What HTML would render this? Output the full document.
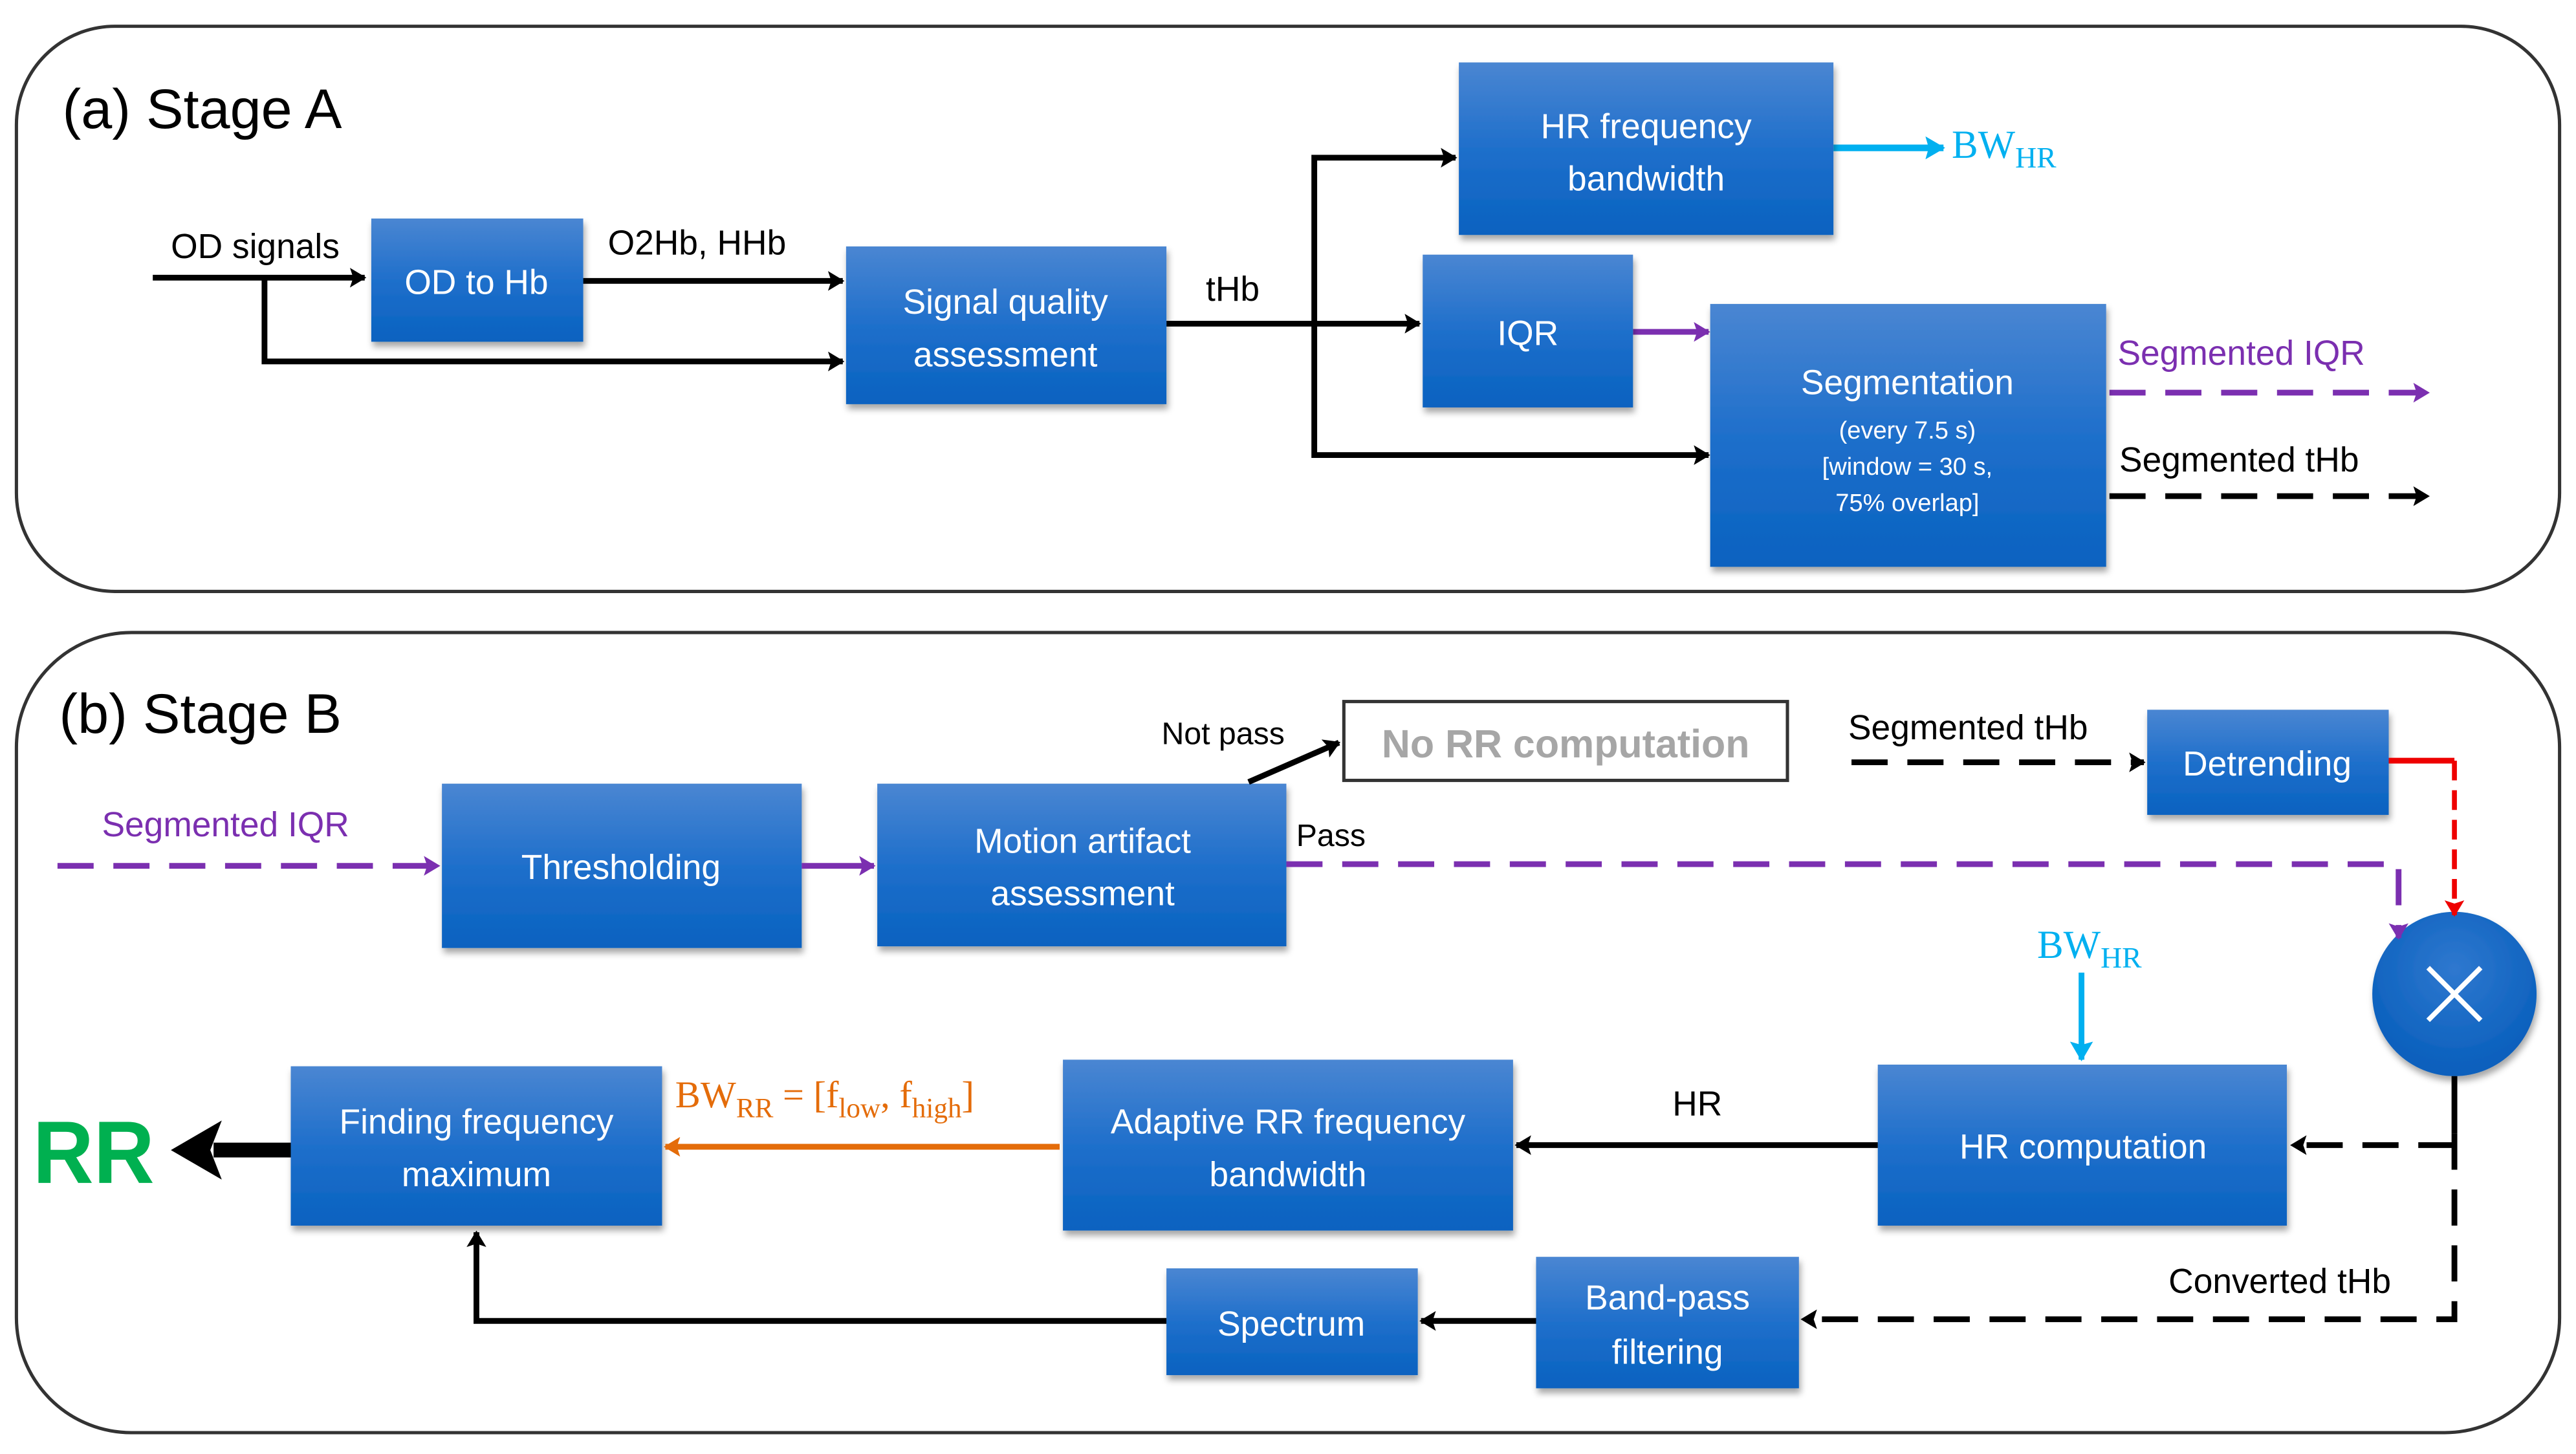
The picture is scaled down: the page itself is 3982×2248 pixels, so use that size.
<!DOCTYPE html>
<html><head><meta charset="utf-8"><style>
html,body{margin:0;padding:0;background:#fff;}
svg{display:block;}
text{font-family:"Liberation Sans",sans-serif;}
.bt{fill:#fff;font-size:21px;text-anchor:middle;}
.lb{fill:#000;font-size:21px;}
.sm{font-size:15px;}
.sf{font-family:"Liberation Serif",serif;}
</style></head><body>
<svg width="3982" height="2248" viewBox="0 0 1568 885" preserveAspectRatio="none" xmlns="http://www.w3.org/2000/svg">
<defs>
<linearGradient id="g" x1="0" y1="0" x2="0" y2="1">
<stop offset="0" stop-color="#4a86d2"/><stop offset="0.5" stop-color="#1f6fcb"/><stop offset="1" stop-color="#0862c0"/>
</linearGradient>
<radialGradient id="cg" cx="0.5" cy="0.35" r="0.6"><stop offset="0" stop-color="#2f78cf"/><stop offset="1" stop-color="#0a60bd"/></radialGradient>
<filter id="sh" x="-10%" y="-10%" width="120%" height="130%"><feDropShadow dx="1" dy="3" stdDeviation="2" flood-color="#000" flood-opacity="0.35"/></filter>
<marker id="ak" markerWidth="10" markerHeight="12" refX="9" refY="6" orient="auto" markerUnits="userSpaceOnUse"><path d="M0,0 L10,6 L0,12 L2,6 z" fill="#000"/></marker>
<marker id="ap" markerWidth="10" markerHeight="12" refX="9" refY="6" orient="auto" markerUnits="userSpaceOnUse"><path d="M0,0 L10,6 L0,12 L2,6 z" fill="#7b2fb0"/></marker>
<marker id="ac" markerWidth="12" markerHeight="14" refX="11" refY="7" orient="auto" markerUnits="userSpaceOnUse"><path d="M0,0 L12,7 L0,14 L2,7 z" fill="#00b0f0"/></marker>
<marker id="ar" markerWidth="10" markerHeight="12" refX="9" refY="6" orient="auto" markerUnits="userSpaceOnUse"><path d="M0,0 L10,6 L0,12 L2,6 z" fill="#e00"/></marker>
<marker id="ao" markerWidth="10" markerHeight="12" refX="9" refY="6" orient="auto" markerUnits="userSpaceOnUse"><path d="M0,0 L10,6 L0,12 L2,6 z" fill="#e46c0a"/></marker>
</defs>

<rect x="10" y="16" width="1548" height="344" rx="60" fill="none" stroke="#333" stroke-width="2"/>
<rect x="10" y="385" width="1548" height="487" rx="70" fill="none" stroke="#333" stroke-width="2"/>
<text x="38" y="78" style="font-size:34px" fill="#000">(a) Stage A</text>
<text x="36" y="446" style="font-size:34px" fill="#000">(b) Stage B</text>

<g stroke="#000" stroke-width="3.5" fill="none">
<path d="M93,169 H222" marker-end="url(#ak)"/>
<path d="M161,169 V220 H513" marker-end="url(#ak)"/>
<path d="M355,171 H513" marker-end="url(#ak)"/>
<path d="M710,197 H864" marker-end="url(#ak)"/>
<path d="M800,197 V96 H886" marker-end="url(#ak)"/>
<path d="M800,197 V277 H1040" marker-end="url(#ak)"/>
<path d="M1284,302 H1478" stroke-dasharray="22,12" marker-end="url(#ak)"/>
</g>
<path d="M994,202 H1040" stroke="#7b2fb0" stroke-width="3.5" marker-end="url(#ap)"/>
<path d="M1116,90 H1183" stroke="#00b0f0" stroke-width="4" marker-end="url(#ac)"/>
<path d="M1284,239 H1478" stroke="#7b2fb0" stroke-width="3.5" stroke-dasharray="22,12" marker-end="url(#ap)"/>

<text x="104" y="157" class="lb">OD signals</text>
<text x="370" y="155" class="lb">O2Hb, HHb</text>
<text x="734" y="183" class="lb">tHb</text>
<text x="1188" y="96" class="sf" style="font-size:24px" fill="#00b0f0">BW<tspan style="font-size:18px" dy="6">HR</tspan></text>
<text x="1289" y="222" style="font-size:21px" fill="#7b2fb0">Segmented IQR</text>
<text x="1290" y="287" class="lb">Segmented tHb</text>

<g filter="url(#sh)" fill="url(#g)">
<rect x="226" y="133" width="129" height="75"/>
<rect x="515" y="150" width="195" height="96"/>
<rect x="888" y="38" width="228" height="105"/>
<rect x="866" y="155" width="128" height="93"/>
<rect x="1041" y="185" width="241" height="160"/>
<rect x="269" y="477" width="219" height="100"/>
<rect x="534" y="477" width="249" height="99"/>
<rect x="1307" y="432" width="147" height="64"/>
<rect x="1143" y="648" width="249" height="98"/>
<rect x="647" y="645" width="274" height="104"/>
<rect x="177" y="649" width="226" height="97"/>
<rect x="710" y="772" width="153" height="65"/>
<rect x="935" y="765" width="160" height="80"/>
<circle cx="1494" cy="605" r="50" fill="url(#cg)"/>
</g>
<path d="M1478,589 L1510,621 M1510,589 L1478,621" stroke="#fff" stroke-width="3"/>

<text x="290" y="179" class="bt">OD to Hb</text>
<text x="612" y="191" class="bt">Signal quality</text>
<text x="612" y="223" class="bt">assessment</text>
<text x="1002" y="84" class="bt">HR frequency</text>
<text x="1002" y="116" class="bt">bandwidth</text>
<text x="930" y="210" class="bt">IQR</text>
<text x="1161" y="240" class="bt">Segmentation</text>
<text x="1161" y="267" class="bt" style="font-size:15px">(every 7.5 s)</text>
<text x="1161" y="289" class="bt" style="font-size:15px">[window = 30 s,</text>
<text x="1161" y="311" class="bt" style="font-size:15px">75% overlap]</text>

<text x="378" y="535" class="bt">Thresholding</text>
<text x="659" y="519" class="bt">Motion artifact</text>
<text x="659" y="551" class="bt">assessment</text>
<text x="1380" y="472" class="bt">Detrending</text>
<text x="1268" y="705" class="bt">HR computation</text>
<text x="784" y="690" class="bt">Adaptive RR frequency</text>
<text x="784" y="722" class="bt">bandwidth</text>
<text x="290" y="690" class="bt">Finding frequency</text>
<text x="290" y="722" class="bt">maximum</text>
<text x="786" y="813" class="bt">Spectrum</text>
<text x="1015" y="797" class="bt">Band-pass</text>
<text x="1015" y="830" class="bt">filtering</text>

<rect x="818" y="427" width="270" height="48" fill="#fff" stroke="#333" stroke-width="2"/>
<text x="953" y="461" style="font-size:24px;font-weight:bold" fill="#a6a6a6" text-anchor="middle">No RR computation</text>

<path d="M35,527 H267" stroke="#7b2fb0" stroke-width="3.5" stroke-dasharray="22,12" marker-end="url(#ap)"/>
<path d="M488,527 H532" stroke="#7b2fb0" stroke-width="3.5" marker-end="url(#ap)"/>
<path d="M783,526 H1460 V571" fill="none" stroke="#7b2fb0" stroke-width="3.5" stroke-dasharray="22,12" marker-end="url(#ap)"/>
<path d="M760,476 L815,452" stroke="#000" stroke-width="3.5" marker-end="url(#ak)"/>
<text x="707" y="453" style="font-size:19px" fill="#000">Not pass</text>
<text x="789" y="515" style="font-size:19px" fill="#000">Pass</text>
<text x="62" y="509" style="font-size:21px" fill="#7b2fb0">Segmented IQR</text>
<text x="1125" y="450" class="lb">Segmented tHb</text>
<path d="M1127,464 H1305" stroke="#000" stroke-width="3.5" stroke-dasharray="22,12" marker-end="url(#ak)"/>
<path d="M1454,463 H1494" stroke="#e00" stroke-width="3.5"/>
<path d="M1494,463 V557" stroke="#e00" stroke-width="3" stroke-dasharray="12,6" marker-end="url(#ar)"/>
<path d="M1494,655 V690" stroke="#000" stroke-width="3.5"/>
<g stroke="#000" stroke-width="3.5" fill="none" stroke-dasharray="22,12">
<path d="M1494,690 V803 H1097" marker-end="url(#ak)"/>
<path d="M1494,697 H1395" marker-end="url(#ak)"/>
</g>
<text x="1320" y="787" class="lb">Converted tHb</text>
<text x="1240" y="583" class="sf" style="font-size:24px" fill="#00b0f0">BW<tspan style="font-size:18px" dy="6">HR</tspan></text>
<path d="M1267,592 V645" stroke="#00b0f0" stroke-width="3.5" marker-end="url(#ac)"/>
<path d="M1143,697 H923" stroke="#000" stroke-width="3.5" marker-end="url(#ak)"/>
<text x="1018" y="679" class="lb">HR</text>
<path d="M645,698 H405" stroke="#e46c0a" stroke-width="3.5" marker-end="url(#ao)"/>
<text x="411" y="674" class="sf" style="font-size:23px" fill="#e46c0a">BW<tspan style="font-size:17px" dy="6">RR</tspan><tspan dy="-6"> = [f</tspan><tspan style="font-size:17px" dy="6">low</tspan><tspan dy="-6">, f</tspan><tspan style="font-size:17px" dy="6">high</tspan><tspan dy="-6">]</tspan></text>
<path d="M935,804 H865" stroke="#000" stroke-width="3.5" marker-end="url(#ak)"/>
<path d="M710,804 H290 V750" fill="none" stroke="#000" stroke-width="3.5" marker-end="url(#ak)"/>
<path d="M177,700 H130" stroke="#000" stroke-width="9"/>
<path d="M104,700 L135,682 L128,700 L135,718 z" fill="#000"/>
<text x="20" y="720" style="font-size:54px;font-weight:bold" fill="#00b050" textLength="74" lengthAdjust="spacingAndGlyphs">RR</text>
</svg>
</body></html>
